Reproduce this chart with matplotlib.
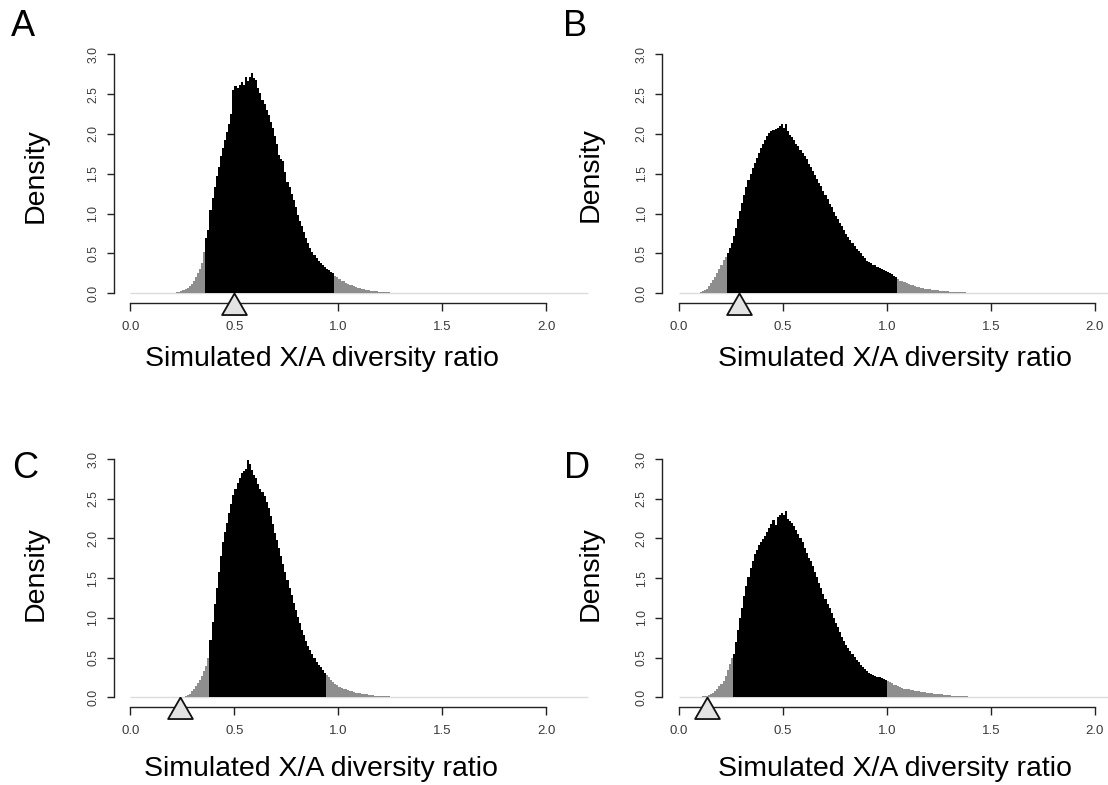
import matplotlib
matplotlib.use("Agg")
import matplotlib.pyplot as plt
import numpy as np

plt.rcParams['font.family'] = ['Liberation Sans', 'DejaVu Sans']

# ---------------- data ----------------
bin_width = 0.01  # histogram bins start at 0.00

dens_A = [
    0, 0, 0, 0, 0, 0, 0, 0, 0, 0,
    0, 0, 0, 0, 0, 0, 0, 0.001, 0.001, 0.002,
    0.004, 0.007, 0.011, 0.017, 0.025, 0.036, 0.05, 0.068, 0.09, 0.12,
    0.16, 0.20, 0.25, 0.31, 0.38, 0.52, 0.70, 0.80, 1.05, 1.20,
    1.34, 1.47, 1.59, 1.72, 1.82, 1.93, 2.03, 2.13, 2.25, 2.55,
    2.60, 2.58, 2.62, 2.65, 2.61, 2.71, 2.66, 2.72, 2.76, 2.70,
    2.68, 2.58, 2.52, 2.42, 2.37, 2.30, 2.24, 2.15, 2.07, 1.98,
    1.88, 1.74, 1.69, 1.66, 1.52, 1.40, 1.33, 1.25, 1.17, 1.08,
    0.98, 0.91, 0.84, 0.77, 0.70, 0.63, 0.57, 0.52, 0.48, 0.44,
    0.41, 0.38, 0.35, 0.33, 0.31, 0.29, 0.27, 0.25, 0.22, 0.20,
    0.18, 0.16, 0.15, 0.13, 0.12, 0.11, 0.10, 0.09, 0.08, 0.07,
    0.063, 0.056, 0.05, 0.045, 0.04, 0.035, 0.031, 0.027, 0.024, 0.021,
    0.019, 0.017, 0.015, 0.013, 0.012, 0.010, 0.009, 0.008, 0.007, 0.006,
    0.006, 0.005, 0.005, 0.004, 0.004, 0.003, 0.003, 0.003, 0.002, 0.002,
    0.002, 0.002, 0.001, 0.001, 0.001, 0.001, 0.001, 0.001, 0.001, 0.001,
]

dens_B = [
    0, 0, 0, 0, 0, 0, 0.001, 0.002, 0.004, 0.008,
    0.015, 0.025, 0.04, 0.06, 0.09, 0.13, 0.17, 0.21, 0.26, 0.30,
    0.36, 0.42, 0.45, 0.50, 0.57, 0.63, 0.72, 0.82, 0.93, 1.03,
    1.13, 1.24, 1.33, 1.42, 1.50, 1.57, 1.63, 1.70, 1.76, 1.82,
    1.87, 1.93, 1.98, 2.01, 2.04, 2.05, 2.06, 2.07, 2.10, 2.13,
    2.08, 2.12, 2.04, 1.99, 1.96, 1.93, 1.88, 1.85, 1.80, 1.76,
    1.72, 1.68, 1.62, 1.58, 1.53, 1.48, 1.44, 1.39, 1.35, 1.29,
    1.23, 1.18, 1.12, 1.08, 1.02, 0.97, 0.93, 0.88, 0.84, 0.79,
    0.75, 0.71, 0.67, 0.63, 0.59, 0.56, 0.53, 0.50, 0.47, 0.44,
    0.41, 0.39, 0.38, 0.36, 0.35, 0.33, 0.32, 0.31, 0.29, 0.28,
    0.27, 0.25, 0.24, 0.22, 0.21, 0.18, 0.16, 0.15, 0.14, 0.13,
    0.12, 0.11, 0.10, 0.095, 0.085, 0.075, 0.07, 0.065, 0.06, 0.055,
    0.05, 0.047, 0.043, 0.04, 0.037, 0.034, 0.031, 0.029, 0.027, 0.025,
    0.022, 0.02, 0.018, 0.016, 0.014, 0.013, 0.012, 0.011, 0.01, 0.009,
    0.008, 0.007, 0.006, 0.006, 0.005, 0.005, 0.004, 0.004, 0.003, 0.003,
    0.002, 0.002, 0.002, 0.002, 0.001, 0.001, 0.001, 0.001, 0.001, 0.001,
]

dens_C = [
    0, 0, 0, 0, 0, 0, 0, 0, 0, 0,
    0, 0, 0, 0, 0, 0, 0, 0, 0, 0,
    0, 0, 0, 0, 0.001, 0.003, 0.01, 0.025, 0.045, 0.08,
    0.11, 0.14, 0.18, 0.22, 0.27, 0.33, 0.40, 0.50, 0.72, 0.95,
    1.18, 1.38, 1.58, 1.78, 1.96, 2.08, 2.20, 2.32, 2.44, 2.55,
    2.62, 2.70, 2.76, 2.82, 2.85, 2.88, 2.99, 2.94, 2.86, 2.80,
    2.76, 2.68, 2.62, 2.58, 2.53, 2.46, 2.38, 2.28, 2.18, 2.07,
    1.98, 1.88, 1.78, 1.68, 1.58, 1.48, 1.38, 1.29, 1.19, 1.10,
    1.01, 0.93, 0.85, 0.78, 0.71, 0.65, 0.59, 0.54, 0.49, 0.45,
    0.41, 0.38, 0.34, 0.31, 0.28, 0.25, 0.22, 0.19, 0.17, 0.15,
    0.13, 0.12, 0.11, 0.10, 0.09, 0.08, 0.075, 0.07, 0.06, 0.055,
    0.05, 0.045, 0.04, 0.036, 0.032, 0.028, 0.025, 0.022, 0.02, 0.018,
    0.016, 0.014, 0.012, 0.011, 0.01, 0.009, 0.008, 0.007, 0.006, 0.005,
    0.004, 0.004, 0.003, 0.003, 0.002, 0.002, 0.002, 0.001, 0.001, 0.001,
]

dens_D = [
    0, 0, 0, 0, 0, 0, 0, 0.001, 0.002, 0.004,
    0.007, 0.01, 0.014, 0.02, 0.03, 0.045, 0.06, 0.08, 0.11, 0.14,
    0.17, 0.21, 0.27, 0.34, 0.42, 0.50, 0.55, 0.70, 0.85, 1.00,
    1.12, 1.28, 1.40, 1.52, 1.63, 1.72, 1.80, 1.86, 1.92, 1.96,
    1.99, 2.03, 2.08, 2.13, 2.18, 2.23, 2.17, 2.27, 2.29, 2.32,
    2.30, 2.34, 2.25, 2.22, 2.19, 2.16, 2.11, 2.06, 2.00, 1.95,
    1.88, 1.82, 1.76, 1.71, 1.65, 1.58, 1.51, 1.44, 1.37, 1.30,
    1.24, 1.18, 1.12, 1.06, 1.00, 0.94, 0.88, 0.82, 0.76, 0.71,
    0.66, 0.62, 0.58, 0.55, 0.51, 0.47, 0.44, 0.41, 0.38, 0.35,
    0.33, 0.31, 0.29, 0.28, 0.27, 0.26, 0.25, 0.24, 0.23, 0.22,
    0.20, 0.19, 0.18, 0.16, 0.15, 0.14, 0.13, 0.12, 0.11, 0.105,
    0.10, 0.095, 0.09, 0.085, 0.08, 0.075, 0.07, 0.066, 0.062, 0.058,
    0.054, 0.05, 0.047, 0.044, 0.041, 0.038, 0.035, 0.032, 0.03, 0.028,
    0.025, 0.022, 0.02, 0.018, 0.016, 0.014, 0.012, 0.011, 0.01, 0.009,
    0.008, 0.007, 0.006, 0.005, 0.005, 0.004, 0.004, 0.003, 0.003, 0.002,
    0.002, 0.002, 0.001, 0.001, 0.001, 0.001, 0.001, 0.001, 0.001, 0.001,
]

panel_letters = ["A", "B", "C", "D"]
densities = [dens_A, dens_B, dens_C, dens_D]
central_lo = [0.36, 0.23, 0.38, 0.26]   # start of central (black) region
central_hi = [0.98, 1.05, 0.94, 1.00]   # end of central (black) region
observed = [0.50, 0.29, 0.24, 0.135]     # observed X/A ratio (triangle)

x_ticks = [0.0, 0.5, 1.0, 1.5, 2.0]
x_ticklabels = ["0.0", "0.5", "1.0", "1.5", "2.0"]
y_ticks = [0.0, 0.5, 1.0, 1.5, 2.0, 2.5, 3.0]
y_ticklabels = ["0.0", "0.5", "1.0", "1.5", "2.0", "2.5", "3.0"]
xlabel_text = "Simulated X/A diversity ratio"
ylabel_text = "Density"

# ---------------- layout (pixels) ----------------
W, H = 1108, 785
fig = plt.figure(figsize=(W / 100, H / 100), dpi=100)

def px_rect(l, t, r, b):
    return [l / W, 1 - b / H, (r - l) / W, (b - t) / H]

axes_px = [
    (113.8, 44.7, 563.1, 302.9),
    (662.2, 44.7, 1111.5, 302.9),
    (113.8, 449.5, 563.1, 706.8),
    (662.2, 449.5, 1111.5, 706.8),
]
letter_px = [(22.5, 26.5), (574.9, 26.5), (25.0, 468.3), (576.6, 468.3)]
ylab_px = [(35.7, 175.8), (590.6, 175.0), (35.7, 573.3), (590.6, 573.3)]
xlab_px = [(321.7, 366.0), (894.7, 366.5), (321.4, 776.0), (894.7, 776.0)]

tick_col = "#3a3a3a"
axis_col = "#222222"
gray_col = "#8e8e8e"

tri_marker = [(0, 0), (-0.575, -1), (0.575, -1), (0, 0)]

for i in range(4):
    ax = fig.add_axes(px_rect(*axes_px[i]))
    vals = np.array(densities[i], dtype=float)
    edges = np.round(np.arange(len(vals) + 1) * bin_width, 4)

    # full histogram in grey (tails)
    ax.stairs(vals, edges, fill=True, color=gray_col, linewidth=0)
    # central region in black
    lo_idx = int(round(central_lo[i] / bin_width))
    hi_idx = int(round(central_hi[i] / bin_width))
    ax.stairs(vals[lo_idx:hi_idx], edges[lo_idx:hi_idx + 1], fill=True,
              color="black", linewidth=0)
    # baseline of empty bins
    ax.plot([0, 2.2], [0, 0], color="#dcdcdc", lw=1.0, clip_on=False,
            zorder=0.5, solid_capstyle="butt")

    ax.set_xlim(-0.08, 2.08)
    ax.set_ylim(-0.12, 3.12)

    for s in ["top", "right"]:
        ax.spines[s].set_visible(False)
    ax.spines["left"].set_bounds(0, 3)
    ax.spines["bottom"].set_bounds(0, 2)
    for s in ["left", "bottom"]:
        ax.spines[s].set_color(axis_col)
        ax.spines[s].set_linewidth(1.0)

    ax.set_xticks(x_ticks)
    ax.set_xticklabels(x_ticklabels)
    ax.set_yticks(y_ticks)
    ax.set_yticklabels(y_ticklabels)
    ax.tick_params(axis="both", length=5.4, width=1.0, color=axis_col,
                   labelcolor=tick_col)
    ax.tick_params(axis="x", pad=7.5, labelsize=9.5)
    ax.tick_params(axis="y", pad=5.0, labelsize=8.8)
    for lab in ax.get_yticklabels():
        lab.set_rotation(90)
        lab.set_va("center")
        lab.set_ha("right")

    # observed value triangle
    ax.plot([observed[i]], [0], marker=tri_marker, markersize=31,
            markerfacecolor="#e3e3e3", markeredgecolor="#111111",
            markeredgewidth=1.3, linestyle="none", clip_on=False, zorder=5)

    # labels
    lx, ly = letter_px[i]
    fig.text(lx / W, 1 - ly / H, panel_letters[i], fontsize=26,
             ha="center", va="center", color="black")
    yx, yy = ylab_px[i]
    fig.text(yx / W, 1 - yy / H, ylabel_text, fontsize=20.5, rotation=90,
             ha="center", va="center", color="black")
    xx, xy = xlab_px[i]
    fig.text(xx / W, 1 - xy / H, xlabel_text, fontsize=20.5,
             ha="center", va="baseline", color="black")

fig.savefig("out.png", dpi=100)
